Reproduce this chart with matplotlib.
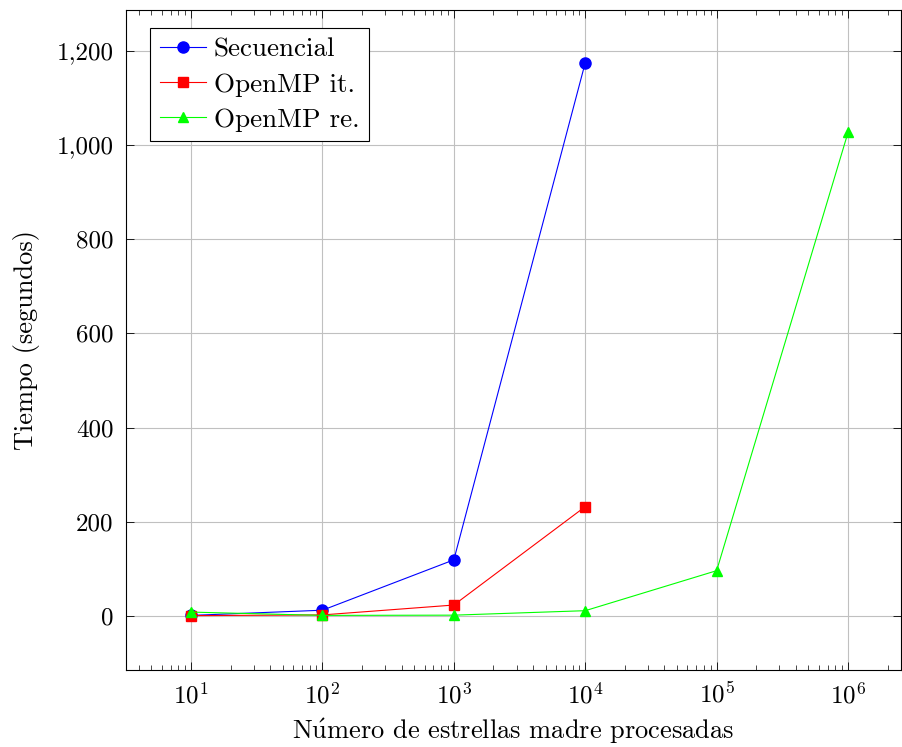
import numpy as np
import matplotlib
matplotlib.use("Agg")
import matplotlib.pyplot as plt
from matplotlib.ticker import FuncFormatter, LogLocator, NullFormatter

plt.rcParams['font.family'] = ['cmr10', 'DejaVu Serif']
plt.rcParams['mathtext.fontset'] = 'cm'
plt.rcParams['axes.unicode_minus'] = False
plt.rcParams['axes.formatter.use_mathtext'] = True

# Datos
estrellas = [10, 100, 1000, 10000, 100000, 1000000]
secuencial = [1, 12, 119, 1175]
openmp_it = [0.5, 2, 23, 232]
openmp_re = [8, 1, 1.5, 11, 96, 1027]

fig = plt.figure(figsize=(9.02, 7.47), dpi=100)
ax = fig.add_axes([126 / 902, 77 / 747, 775 / 902, 660 / 747])

ax.plot(estrellas[:4], secuencial, color='blue', marker='o', markersize=8, lw=0.8, label='Secuencial')
ax.plot(estrellas[:4], openmp_it, color='red', marker='s', markersize=7.5, lw=0.8, label='OpenMP it.')
ax.plot(estrellas, openmp_re, color='#00ff00', marker='^', markersize=7.5, lw=0.8, label='OpenMP re.')

ax.set_xscale('log')
ax.set_xlim(10 ** 0.505, 10 ** 6.403)
ax.set_ylim(-115, 1287)
ax.set_yticks([0, 200, 400, 600, 800, 1000, 1200])
ax.yaxis.set_major_formatter(FuncFormatter(lambda v, p: '{:,.0f}'.format(v)))
ax.xaxis.set_major_locator(LogLocator(base=10, numticks=10))
ax.xaxis.set_minor_locator(LogLocator(base=10, subs=np.arange(2, 10), numticks=10))
ax.xaxis.set_minor_formatter(NullFormatter())

ax.grid(True, which='major', color='#c0c0c0', lw=0.8)
ax.tick_params(which='both', direction='in', top=True, right=True, labelsize=18)
ax.tick_params(which='major', length=6, width=0.6, pad=9)
ax.tick_params(which='minor', length=3.5, width=0.5)
for s in ax.spines.values():
    s.set_linewidth(0.8)

ax.set_xlabel('N$\\mathrm{\\acute{u}}$mero de estrellas madre procesadas', fontsize=19, labelpad=6)
ax.set_ylabel('Tiempo (segundos)', fontsize=19, labelpad=12)

leg = ax.legend(loc='upper left', bbox_to_anchor=(0.031, 0.973), fontsize=19.5, fancybox=False,
                edgecolor='black', framealpha=1, handlelength=1.7, borderpad=0.35,
                labelspacing=0.42, handletextpad=0.3, borderaxespad=0)
leg.get_frame().set_linewidth(0.8)

fig.savefig('out.png', dpi=100)
